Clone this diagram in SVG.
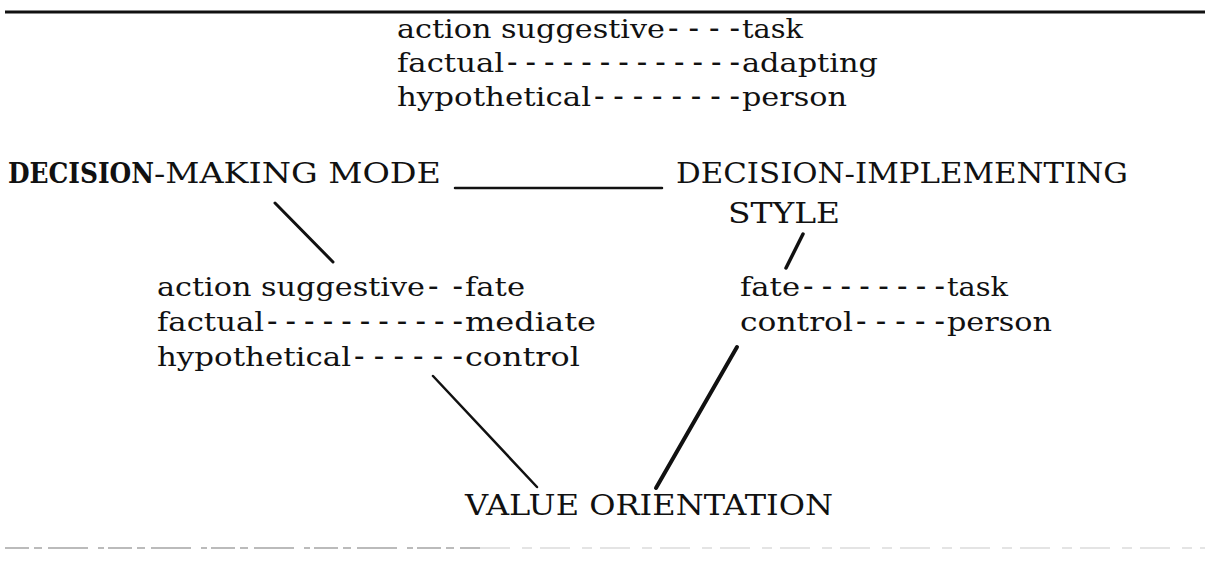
<svg xmlns="http://www.w3.org/2000/svg" width="1210" height="561" viewBox="0 0 1210 561">
<style>
.t{font-family:"DejaVu Serif","Liberation Serif",serif;font-size:26px;fill:#111}
.c{font-family:"DejaVu Serif","Liberation Serif",serif;font-size:27px;fill:#111}
.h{font-size:31px}
.b{font-weight:bold}
.ln{stroke:#111;fill:none;stroke-linecap:round}
</style>
<rect width="1210" height="561" fill="#fff"/>
<line x1="5" y1="12" x2="1205" y2="12" stroke="#111" stroke-width="3"/>
<g id="bottom-rule">
<line x1="5" y1="548" x2="480" y2="548" stroke="#bbb" stroke-width="2" stroke-dasharray="24 5 8 6 40 10 6 4"/>
<line x1="480" y1="548" x2="1205" y2="548" stroke="#e4e4e4" stroke-width="2" stroke-dasharray="30 12 10 8"/>
</g>
<g id="top-pairs">
<text class="t" y="38"><tspan x="397" textLength="268" lengthAdjust="spacingAndGlyphs">action suggestive</tspan><tspan class="h" x="668" textLength="72" lengthAdjust="spacing">----</tspan><tspan x="742" textLength="61" lengthAdjust="spacingAndGlyphs">task</tspan></text>
<text class="t" y="72"><tspan x="397" textLength="107" lengthAdjust="spacingAndGlyphs">factual</tspan><tspan class="h" x="507" textLength="233" lengthAdjust="spacing">-------------</tspan><tspan x="742" textLength="136" lengthAdjust="spacingAndGlyphs">adapting</tspan></text>
<text class="t" y="106"><tspan x="397" textLength="194" lengthAdjust="spacingAndGlyphs">hypothetical</tspan><tspan class="h" x="594" textLength="146" lengthAdjust="spacing">--------</tspan><tspan x="742" textLength="105" lengthAdjust="spacingAndGlyphs">person</tspan></text>
</g>
<g id="decision-making-mode">
<text class="c" y="183"><tspan class="b" x="8" textLength="146" lengthAdjust="spacingAndGlyphs">DECISION</tspan><tspan x="154" textLength="287" lengthAdjust="spacingAndGlyphs">-MAKING MODE</tspan></text>
</g>
<g id="decision-implementing-style">
<text class="c" x="676" y="183" textLength="452" lengthAdjust="spacingAndGlyphs">DECISION-IMPLEMENTING</text>
<text class="c" x="728" y="223" textLength="112" lengthAdjust="spacingAndGlyphs">STYLE</text>
</g>
<g id="mode-value-pairs">
<text class="t" y="296"><tspan x="157" textLength="268" lengthAdjust="spacingAndGlyphs">action suggestive</tspan><tspan class="h" x="428" textLength="35" lengthAdjust="spacing">--</tspan><tspan x="465" textLength="60" lengthAdjust="spacingAndGlyphs">fate</tspan></text>
<text class="t" y="331"><tspan x="157" textLength="107" lengthAdjust="spacingAndGlyphs">factual</tspan><tspan class="h" x="267" textLength="196" lengthAdjust="spacing">-----------</tspan><tspan x="465" textLength="131" lengthAdjust="spacingAndGlyphs">mediate</tspan></text>
<text class="t" y="366"><tspan x="157" textLength="194" lengthAdjust="spacingAndGlyphs">hypothetical</tspan><tspan class="h" x="354" textLength="109" lengthAdjust="spacing">------</tspan><tspan x="465" textLength="115" lengthAdjust="spacingAndGlyphs">control</tspan></text>
</g>
<g id="style-value-pairs">
<text class="t" y="296"><tspan x="740" textLength="60" lengthAdjust="spacingAndGlyphs">fate</tspan><tspan class="h" x="803" textLength="142" lengthAdjust="spacing">--------</tspan><tspan x="947" textLength="61" lengthAdjust="spacingAndGlyphs">task</tspan></text>
<text class="t" y="331"><tspan x="740" textLength="113" lengthAdjust="spacingAndGlyphs">control</tspan><tspan class="h" x="856" textLength="89" lengthAdjust="spacing">-----</tspan><tspan x="947" textLength="105" lengthAdjust="spacingAndGlyphs">person</tspan></text>
</g>
<g id="value-orientation">
<text class="c" x="465" y="515" textLength="368" lengthAdjust="spacingAndGlyphs">VALUE ORIENTATION</text>
</g>
<g id="connectors">
<line class="ln" x1="455" y1="188" x2="662" y2="188" stroke-width="2.5"/>
<line class="ln" x1="275" y1="203" x2="333" y2="262" stroke-width="3"/>
<line class="ln" x1="803" y1="234" x2="786" y2="268" stroke-width="3.5"/>
<line class="ln" x1="433" y1="376" x2="537" y2="487" stroke-width="2.5"/>
<line class="ln" x1="737" y1="347" x2="656" y2="488" stroke-width="4"/>
</g>
</svg>
